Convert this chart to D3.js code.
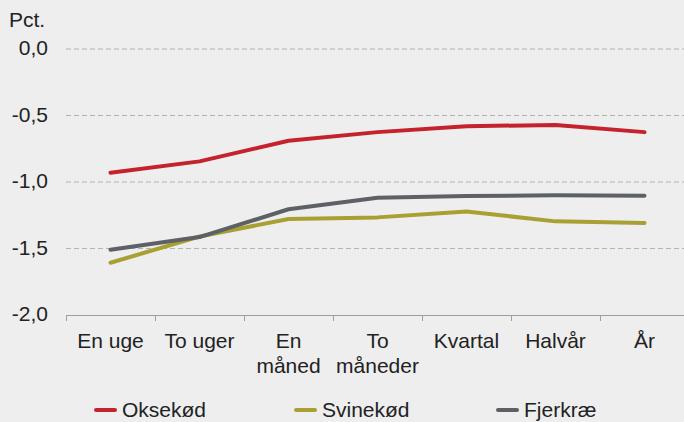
<!DOCTYPE html>
<meta charset="utf-8">
<script src="https://d3js.org/d3.v7.min.js"></script>
<style>
  body { margin: 0; background: #eeeeee; }
  svg { display: block; font-family: "Liberation Sans", Arial, sans-serif; }
</style>
<div id="chart"></div>
<script>
  // data
  const categories = [["En uge"], ["To uger"], ["En", "måned"], ["To", "måneder"], ["Kvartal"], ["Halvår"], ["År"]];
  const oksekod = [-0.93, -0.845, -0.69, -0.625, -0.58, -0.572, -0.625];
  const svinekod = [-1.607, -1.41, -1.278, -1.266, -1.222, -1.296, -1.308];
  const fjerkrae = [-1.509, -1.414, -1.205, -1.118, -1.105, -1.1, -1.103];
  const yTicks = [0, -0.5, -1, -1.5, -2];
  const seriesNames = ["Oksekød", "Svinekød", "Fjerkræ"];
  const colors = ["#c4232e", "#a9a033", "#5d6166"];

  const W = 684, H = 422;
  const margin = { top: 49, right: 0, bottom: 107, left: 66 };
  const fs = 21;

  const svg = d3.select("#chart").append("svg")
    .attr("width", W).attr("height", H);

  svg.append("rect").attr("width", W).attr("height", H).attr("fill", "#eeeeee");

  const idx = categories.map((c, i) => i);
  const x = d3.scaleBand()
    .domain(idx)
    .range([margin.left, margin.left + 89 * 7]);

  const y = d3.scaleLinear()
    .domain([-2, 0])
    .range([H - margin.bottom, margin.top]);

  // grid lines
  svg.append("g")
    .selectAll("line")
    .data(yTicks.filter(d => d !== -2))
    .join("line")
    .attr("x1", margin.left)
    .attr("x2", W)
    .attr("y1", d => y(d))
    .attr("y2", d => y(d))
    .attr("stroke", "#b4b4b4")
    .attr("stroke-width", 1)
    .attr("stroke-dasharray", "5,3");

  // y axis labels
  const fmt = d => d3.format(".1f")(d).replace("−", "-").replace(".", ",");
  svg.append("g")
    .selectAll("text")
    .data(yTicks)
    .join("text")
    .attr("x", 48)
    .attr("y", d => y(d) + 6)
    .attr("text-anchor", "end")
    .attr("font-size", fs)
    .attr("fill", "#222")
    .text(d => fmt(d));

  svg.append("text")
    .attr("x", 9)
    .attr("y", 27)
    .attr("font-size", fs)
    .attr("fill", "#222")
    .text("Pct.");

  // x axis
  const xAxis = svg.append("g")
    .attr("transform", `translate(0, ${y(-2)})`)
    .call(d3.axisBottom(x).tickValues([]).tickSizeOuter(0));
  xAxis.select(".domain").attr("stroke", "#a0a0a0").attr("d", `M${margin.left},0.5H${W}`);

  const boundaries = idx.map(i => x(i));
  svg.append("g")
    .selectAll("line")
    .data(boundaries)
    .join("line")
    .attr("x1", d => d + 0.5)
    .attr("x2", d => d + 0.5)
    .attr("y1", y(-2))
    .attr("y2", y(-2) + 6)
    .attr("stroke", "#a0a0a0");

  const labels = svg.append("g")
    .selectAll("text")
    .data(categories)
    .join("text")
    .attr("x", (d, i) => x(i) + x.bandwidth() / 2)
    .attr("y", 348)
    .attr("text-anchor", "middle")
    .attr("font-size", fs)
    .attr("fill", "#222");
  labels.selectAll("tspan")
    .data(d => d)
    .join("tspan")
    .attr("x", function () { return this.parentNode.getAttribute("x"); })
    .attr("dy", (d, i) => i === 0 ? 0 : 25)
    .text(d => d);

  // lines
  const line = d3.line()
    .x((d, i) => x(i) + x.bandwidth() / 2)
    .y(d => y(d));

  [oksekod, svinekod, fjerkrae].forEach((s, k) => {
    svg.append("path")
      .datum(s)
      .attr("fill", "none")
      .attr("stroke", colors[k])
      .attr("stroke-width", 4)
      .attr("stroke-linecap", "round")
      .attr("stroke-linejoin", "round")
      .attr("d", line);
  });

  // legend
  const legendX = [95, 295, 497];
  const legend = svg.append("g")
    .selectAll("g")
    .data(seriesNames)
    .join("g")
    .attr("transform", (d, i) => `translate(${legendX[i]}, 410)`);
  legend.append("line")
    .attr("x1", 1).attr("x2", 20)
    .attr("stroke", (d, i) => colors[i])
    .attr("stroke-width", 4)
    .attr("stroke-linecap", "round");
  legend.append("text")
    .attr("x", 27)
    .attr("y", 7)
    .attr("font-size", fs)
    .attr("fill", "#222")
    .text(d => d);
</script>
